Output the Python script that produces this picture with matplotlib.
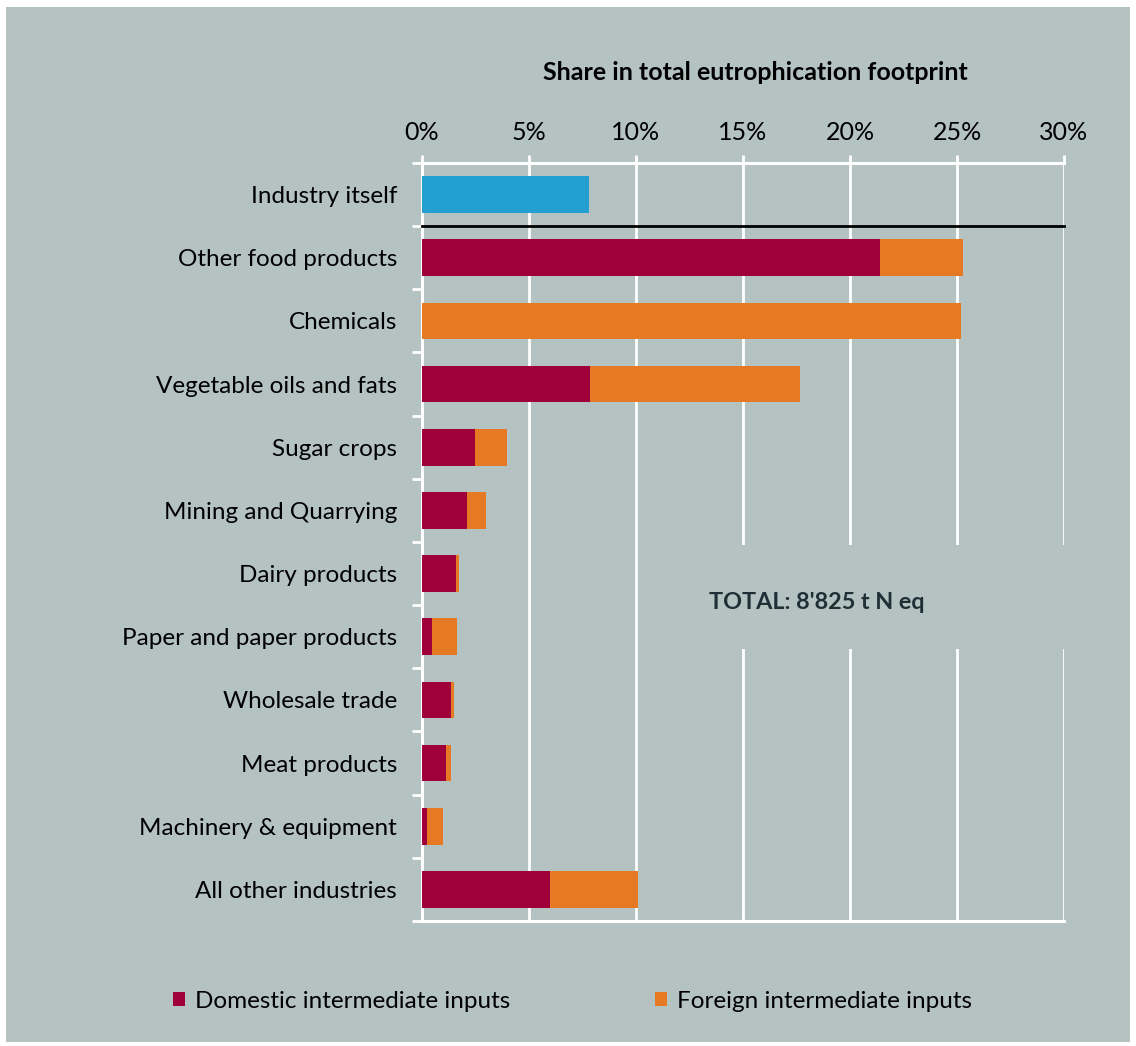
import matplotlib.pyplot as plt
from matplotlib.patches import Rectangle
from matplotlib.ticker import FixedLocator, PercentFormatter

plt.rcParams['font.family'] = ['Lato', 'DejaVu Sans']

BG = '#b4c2c1'
DOMESTIC_COLOR = '#a0003a'
FOREIGN_COLOR = '#e67a24'
SELF_COLOR = '#23a0d0'

categories = ['Industry itself', 'Other food products', 'Chemicals', 'Vegetable oils and fats',
              'Sugar crops', 'Mining and Quarrying', 'Dairy products', 'Paper and paper products',
              'Wholesale trade', 'Meat products', 'Machinery & equipment', 'All other industries']
industry_itself = 7.79
# shares in %, one value per supplying industry (rows 2..12)
domestic = [21.42, 0.0, 7.85, 2.48, 2.10, 1.59, 0.48, 1.35, 1.12, 0.23, 5.97]
foreign = [3.86, 25.18, 9.81, 1.49, 0.90, 0.15, 1.15, 0.13, 0.25, 0.76, 4.11]
x_ticks = [0, 5, 10, 15, 20, 25, 30]
total_label = "TOTAL: 8'825 t N eq"

fig = plt.figure(figsize=(11.36, 10.46), dpi=100, facecolor='white')
fig.patches.append(Rectangle((6 / 1136, 4 / 1046), 1124 / 1136, 1035 / 1046,
                             transform=fig.transFigure, facecolor=BG, edgecolor='none', zorder=-10))
ax = fig.add_axes([422 / 1136, 1 - 921 / 1046, 642 / 1136, 758 / 1046])
ax.set_facecolor(BG)
ax.patch.set_alpha(0)

rows = list(range(1, len(categories)))
ax.barh([0], [industry_itself], height=0.58, color=SELF_COLOR, zorder=3)
dom = ax.barh(rows, domestic, height=0.58, color=DOMESTIC_COLOR, zorder=3,
              label='Domestic intermediate inputs')
frn = ax.barh(rows, foreign, left=domestic, height=0.58, color=FOREIGN_COLOR, zorder=3,
              label='Foreign intermediate inputs')

ax.set_xlim(0, 30)
ax.set_ylim(len(categories) - 0.5, -0.5)
ax.set_yticks(range(len(categories)))
ax.set_yticklabels(categories)
ax.yaxis.set_minor_locator(FixedLocator([i - 0.5 for i in range(len(categories) + 1)]))
ax.tick_params(axis='y', which='major', length=0, pad=18, labelsize=17.5, labelcolor='black')
ax.tick_params(axis='y', which='minor', length=7, width=2, color='white')

ax.xaxis.tick_top()
ax.set_xticks(x_ticks)
ax.xaxis.set_major_formatter(PercentFormatter(decimals=0))
ax.tick_params(axis='x', length=6, width=2, color='white', pad=8, labelsize=18)
ax.grid(axis='x', color='white', linewidth=2, zorder=1)
ax.set_axisbelow(True)

for side in ['top', 'left', 'bottom']:
    ax.spines[side].set_color('white')
    ax.spines[side].set_linewidth(2.2)
ax.spines['right'].set_visible(False)

# separator between the industry itself and its suppliers
ax.plot([0, 30], [0.5, 0.5], color='black', linewidth=2, zorder=4, clip_on=False)

# background box behind the total so the gridlines break around it
ax.add_patch(Rectangle((12.8, 5.55), 18, 1.65, facecolor=BG, edgecolor='none',
                       zorder=2, clip_on=False))
ax.text(13.4, 6.45, total_label, fontsize=16.8, fontweight='bold', color='#1f2f36',
        va='center', ha='left', zorder=5)

fig.text(755 / 1136, 1 - 72 / 1046, 'Share in total eutrophication footprint',
         fontsize=18, fontweight='bold', ha='center', va='center')

fig.legend(handles=[dom], loc='center left', bbox_to_anchor=(151 / 1136, 1 - 1001 / 1046),
           frameon=False, fontsize=17.5, handlelength=0.5, handleheight=0.5, handletextpad=0.4)
fig.legend(handles=[frn], loc='center left', bbox_to_anchor=(633 / 1136, 1 - 1001 / 1046),
           frameon=False, fontsize=17.5, handlelength=0.5, handleheight=0.5, handletextpad=0.4)

fig.savefig('out.png', dpi=100, facecolor='white')
